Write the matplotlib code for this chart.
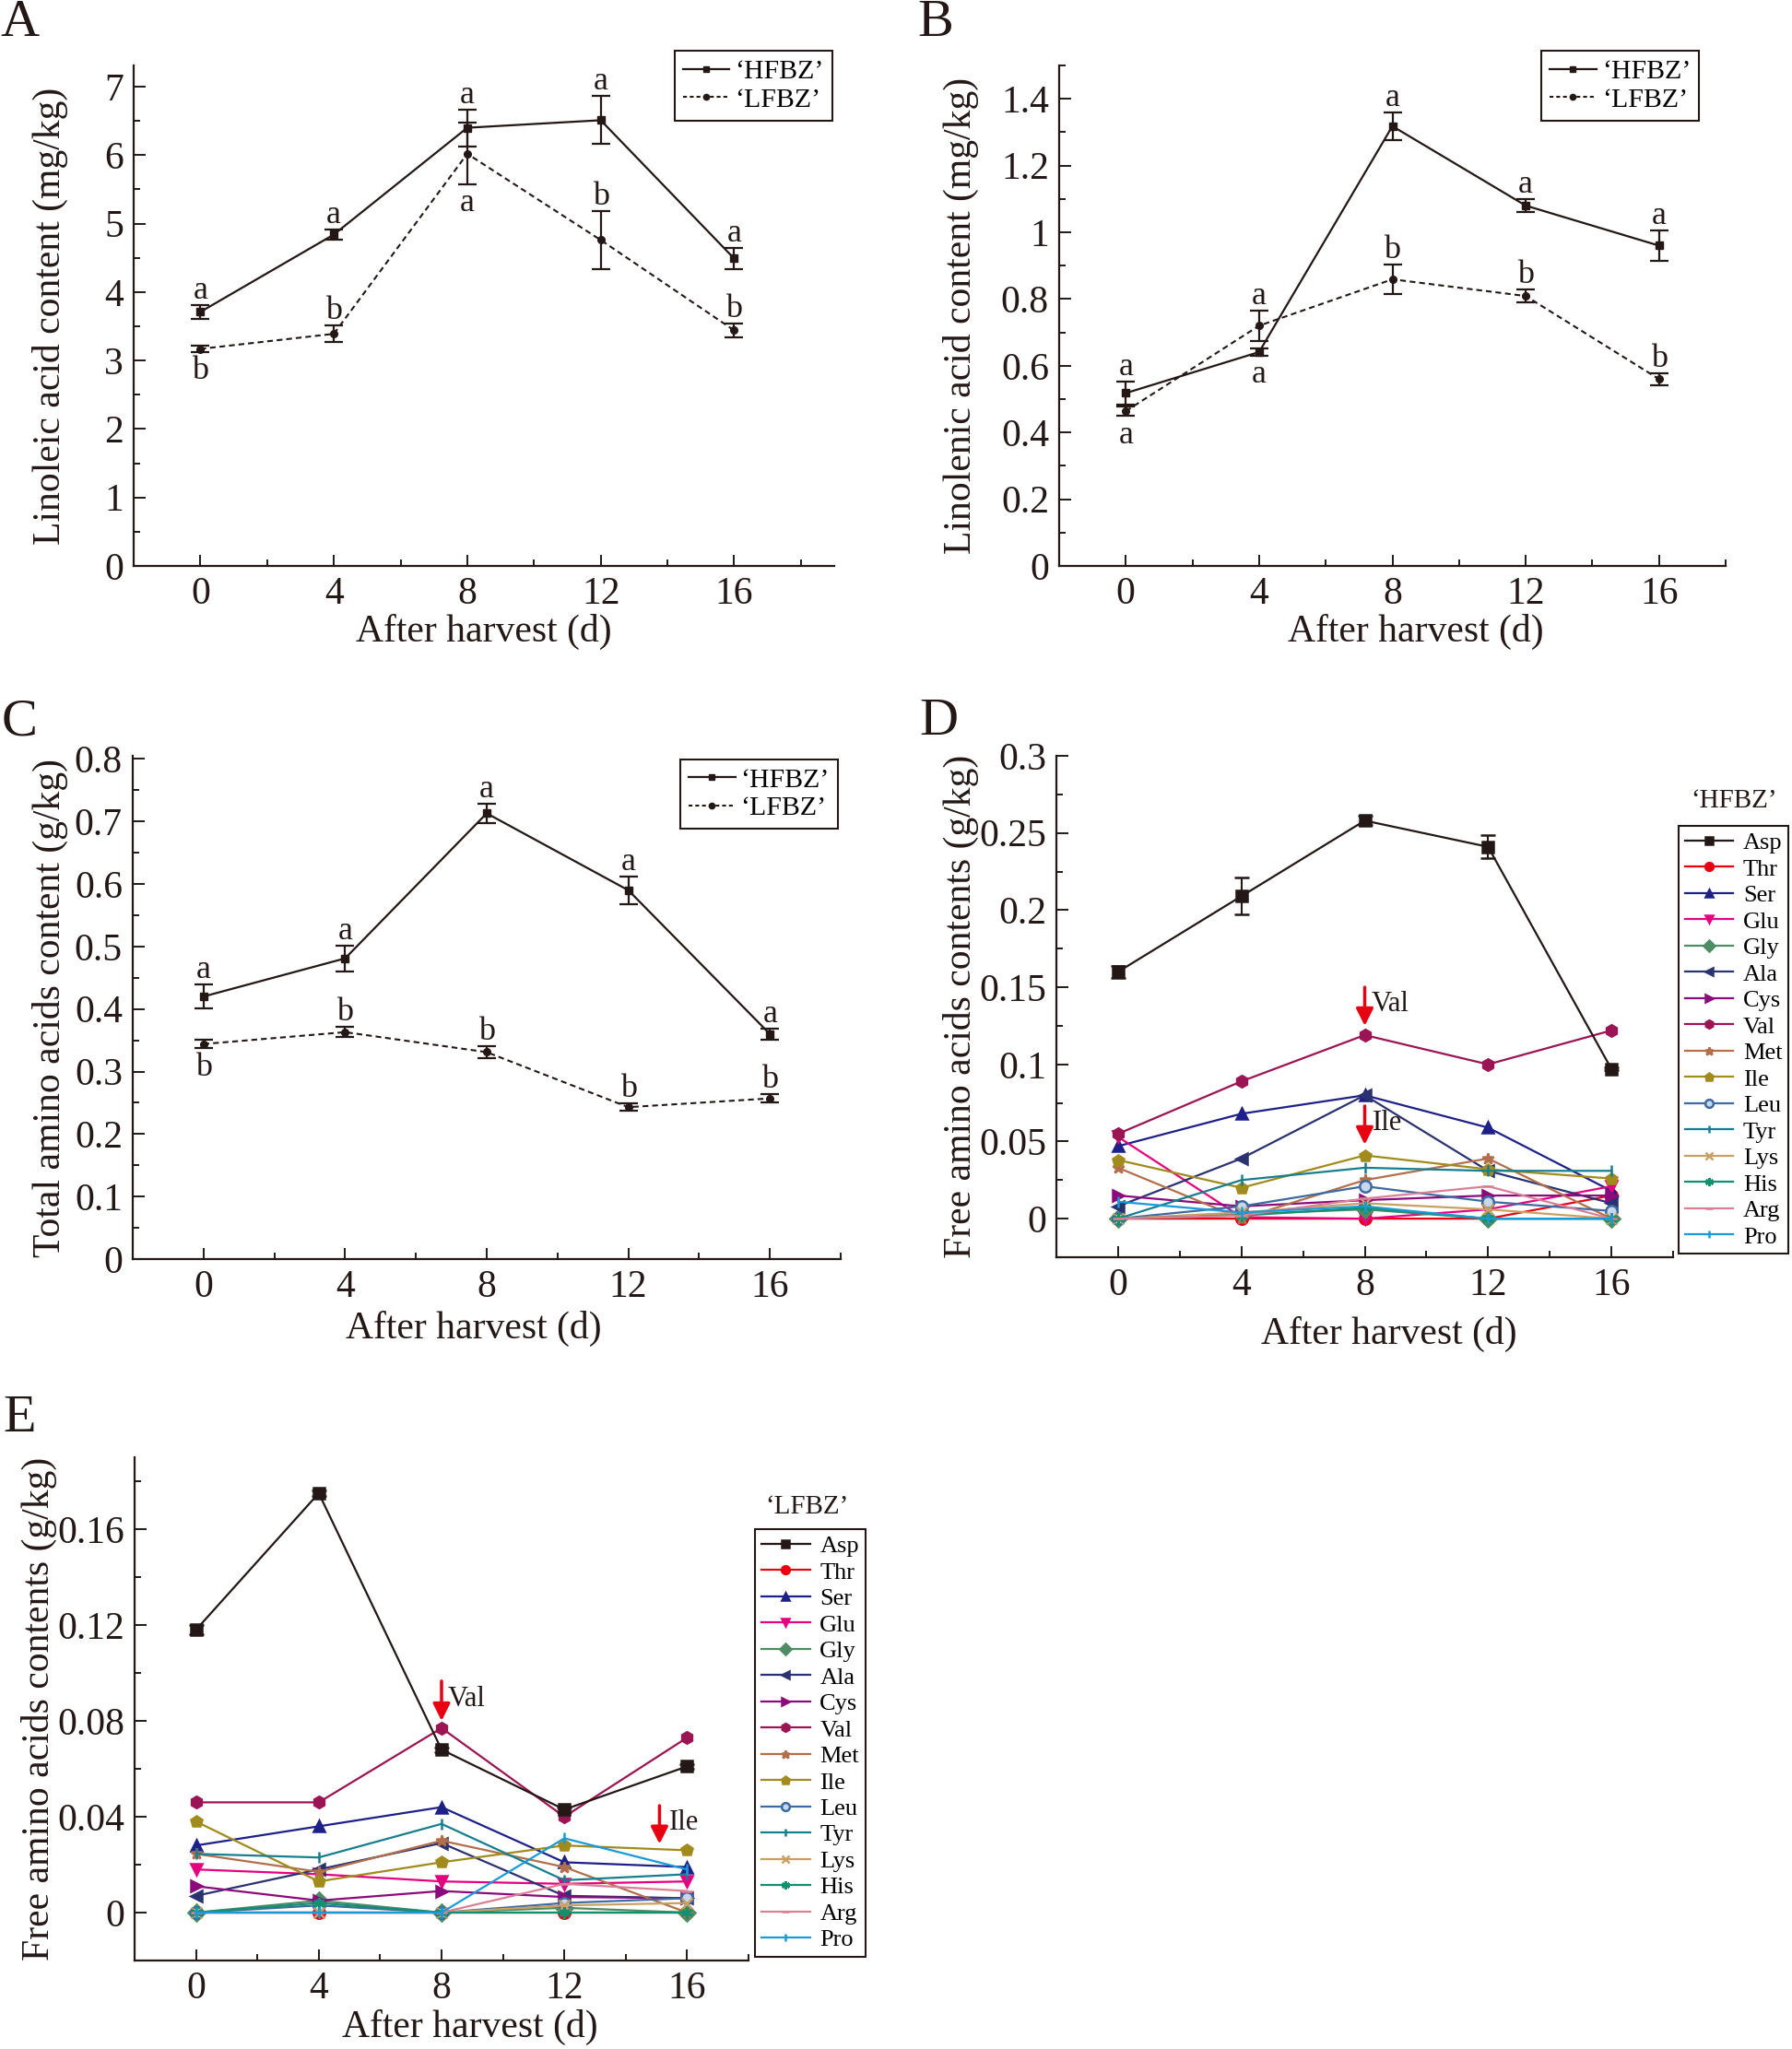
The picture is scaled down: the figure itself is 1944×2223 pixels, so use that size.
import matplotlib
matplotlib.use('Agg')
import matplotlib.pyplot as plt
from matplotlib.ticker import MultipleLocator, FuncFormatter
from matplotlib.lines import Line2D

plt.rcParams['font.family'] = ['Liberation Serif', 'DejaVu Serif']

ink = '#231815'
days = [0, 4, 8, 12, 16]

# A: linoleic acid (mg/kg)
linoleic_hfbz = [3.71, 4.84, 6.40, 6.51, 4.49]
linoleic_hfbz_err = [0.10, 0.08, 0.27, 0.35, 0.15]
linoleic_lfbz = [3.17, 3.39, 6.02, 4.76, 3.44]
linoleic_lfbz_err = [0.05, 0.12, 0.45, 0.42, 0.10]
linoleic_hfbz_sig = ['a', 'a', 'a', 'a', 'a']
linoleic_lfbz_sig = ['b', 'b', 'a', 'b', 'b']

# B: linolenic acid (mg/kg)
linolenic_hfbz = [0.518, 0.641, 1.318, 1.080, 0.960]
linolenic_hfbz_err = [0.035, 0.011, 0.041, 0.019, 0.045]
linolenic_lfbz = [0.464, 0.720, 0.859, 0.809, 0.560]
linolenic_lfbz_err = [0.015, 0.046, 0.044, 0.020, 0.018]
linolenic_hfbz_sig = ['a', 'a', 'a', 'a', 'a']
linolenic_lfbz_sig = ['a', 'a', 'b', 'b', 'b']

# C: total amino acids (g/kg)
total_aa_hfbz = [0.420, 0.481, 0.713, 0.590, 0.360]
total_aa_hfbz_err = [0.019, 0.021, 0.016, 0.022, 0.009]
total_aa_lfbz = [0.344, 0.363, 0.331, 0.243, 0.257]
total_aa_lfbz_err = [0.007, 0.008, 0.009, 0.006, 0.007]
total_aa_hfbz_sig = ['a', 'a', 'a', 'a', 'a']
total_aa_lfbz_sig = ['b', 'b', 'b', 'b', 'b']

# D / E: free amino acids (g/kg)
aa_names = ['Asp', 'Thr', 'Ser', 'Glu', 'Gly', 'Ala', 'Cys', 'Val',
            'Met', 'Ile', 'Leu', 'Tyr', 'Lys', 'His', 'Arg', 'Pro']
hfbz_free_aa = [
    [0.160, 0.209, 0.258, 0.241, 0.097],
    [0.0, 0.0, 0.0, 0.0, 0.015],
    [0.047, 0.068, 0.080, 0.059, 0.018],
    [0.053, 0.001, 0.0, 0.006, 0.021],
    [0.0, 0.003, 0.006, 0.0, 0.0],
    [0.008, 0.039, 0.080, 0.031, 0.010],
    [0.015, 0.008, 0.012, 0.015, 0.015],
    [0.055, 0.089, 0.119, 0.100, 0.122],
    [0.033, 0.0, 0.025, 0.039, 0.0],
    [0.038, 0.020, 0.041, 0.032, 0.026],
    [0.0, 0.008, 0.021, 0.011, 0.005],
    [0.0, 0.025, 0.033, 0.031, 0.031],
    [0.0, 0.004, 0.010, 0.006, 0.0],
    [0.0, 0.002, 0.007, 0.0, 0.0],
    [0.0, 0.002, 0.013, 0.021, 0.0],
    [0.011, 0.004, 0.008, 0.0, 0.0],
]
hfbz_asp_err = [0.004, 0.012, 0.003, 0.0075, 0.001]
lfbz_free_aa = [
    [0.118, 0.175, 0.068, 0.043, 0.061],
    [0.0, 0.0, 0.0, 0.0, 0.0],
    [0.028, 0.036, 0.044, 0.021, 0.019],
    [0.018, 0.016, 0.013, 0.012, 0.013],
    [0.0, 0.005, 0.0, 0.002, 0.0],
    [0.007, 0.018, 0.029, 0.007, 0.006],
    [0.011, 0.005, 0.009, 0.0065, 0.006],
    [0.046, 0.046, 0.077, 0.040, 0.073],
    [0.0245, 0.017, 0.030, 0.019, 0.0],
    [0.038, 0.013, 0.021, 0.028, 0.026],
    [0.0, 0.003, 0.0, 0.004, 0.006],
    [0.0245, 0.023, 0.037, 0.0135, 0.016],
    [0.0, 0.0, 0.0, 0.003, 0.004],
    [0.0, 0.004, 0.0, 0.0, 0.0],
    [0.0, 0.0, 0.0, 0.012, 0.009],
    [0.0, 0.0, 0.0, 0.031, 0.018],
]
lfbz_asp_err = [0.002, 0.001, 0.001, 0.001, 0.001]

aa_colors = ['#231815', '#e60012', '#1d2088', '#e4007f', '#4d8c65', '#2a3270',
             '#8b0a7c', '#9b1453', '#b26f4c', '#a08b1c', '#3d6aa0', '#177e8f',
             '#c9a063', '#0f9170', '#d98095', '#1a9ad6']
aa_markers = ['s', 'o', '^', 'v', 'D', '<', '>', 'h',
              '*', 'p', 'o', '|', 'x', (6, 2, 0), '_', '|']

W, H = 1944, 2223
fig = plt.figure(figsize=(W / 100, H / 100), dpi=100)


def add_axes(left, right, top, bottom):
    return fig.add_axes([left / W, 1 - bottom / H, (right - left) / W, (bottom - top) / H])


def fmt(v, p):
    return '0' if abs(v) < 1e-9 else f'{v:g}'


def style(ax, xlim, ylim, ymaj, ymin, ylabel, ylx, xlx, xly):
    ax.set_xlim(xlim)
    ax.set_ylim(ylim)
    for s in ['top', 'right']:
        ax.spines[s].set_visible(False)
    for s in ['left', 'bottom']:
        ax.spines[s].set_linewidth(1.6)
        ax.spines[s].set_color(ink)
    ax.set_xticks(days)
    ax.xaxis.set_minor_locator(MultipleLocator(2))
    ax.yaxis.set_major_locator(MultipleLocator(ymaj))
    ax.yaxis.set_minor_locator(MultipleLocator(ymin))
    ax.yaxis.set_major_formatter(FuncFormatter(fmt))
    ax.tick_params(which='both', direction='in', width=1.4, colors=ink,
                   labelsize=30, pad=8)
    ax.tick_params(which='major', length=9)
    ax.tick_params(which='minor', length=5)
    ax.set_ylabel(ylabel, fontsize=30, color=ink, va='center')
    ax.yaxis.set_label_coords(ylx, 0.5)
    ax.set_xlabel('After harvest (d)', fontsize=30, color=ink, va='center')
    ax.xaxis.set_label_coords(xlx, xly)


def draw_pair(ax, h, he, l, le, hsig, lsig, hpos, lpos):
    ax.errorbar(days, h, yerr=he, color=ink, lw=1.6, marker='s', ms=6,
                capsize=7, elinewidth=1.6, capthick=1.6)
    ax.errorbar(days, l, yerr=le, color=ink, lw=1.5, ls=(0, (3, 2)), marker='o', ms=5.5,
                capsize=7, elinewidth=1.6, capthick=1.6)
    for vals, errs, sig, pos in [(h, he, hsig, hpos), (l, le, lsig, lpos)]:
        for x, v, e, s, p in zip(days, vals, errs, sig, pos):
            if p == 'above':
                ax.annotate(s, (x, v + e), xytext=(0, 5), textcoords='offset points',
                            ha='center', va='baseline', fontsize=26, color=ink)
            else:
                ax.annotate(s, (x, v - e), xytext=(0, -3), textcoords='offset points',
                            ha='center', va='top', fontsize=26, color=ink)


def pair_legend(ax, anchor):
    handles = [Line2D([], [], color=ink, lw=1.6, marker='s', ms=5),
               Line2D([], [], color=ink, lw=1.5, ls=(0, (2, 1.5)), marker='o', ms=4.5)]
    leg = ax.legend(handles, ['\u2018HFBZ\u2019', '\u2018LFBZ\u2019'], loc='upper right',
                    bbox_to_anchor=anchor, borderaxespad=0, fontsize=21.5, handlelength=1.7,
                    handletextpad=0.2, borderpad=0.3, labelspacing=0.12, fancybox=False,
                    framealpha=1, edgecolor=ink)
    leg.get_frame().set_linewidth(1.5)


def aa_panel(ax, data, asp_err, title, anchor, title_xy):
    handles = []
    for i, (name, vals) in enumerate(zip(aa_names, data)):
        mfc = '#c8d8ec' if name == 'Leu' else aa_colors[i]
        kw = dict(color=aa_colors[i], lw=1.6, marker=aa_markers[i],
                  mfc=mfc, mew=1.8)
        if name == 'Asp':
            cont = ax.errorbar(days, vals, yerr=asp_err, capsize=6, elinewidth=1.5,
                               capthick=1.5, ms=8, **kw)
            handles.append(cont.lines[0])
        else:
            line, = ax.plot(days, vals, ms=9, **kw)
            handles.append(line)
    leg = ax.legend(handles, aa_names, loc='upper right', bbox_to_anchor=anchor,
                    borderaxespad=0, fontsize=19, handlelength=2.0, handletextpad=0.4,
                    borderpad=0.25, labelspacing=0.19, fancybox=False, framealpha=1,
                    edgecolor=ink, markerscale=0.7)
    leg.get_frame().set_linewidth(1.5)
    ax.text(title_xy[0], title_xy[1], title, transform=ax.transAxes, ha='center',
            va='center', fontsize=21, color=ink)


def red_arrow(ax, x, y0, y1, label, tx):
    ax.annotate('', xy=(x, y1), xytext=(x, y0),
                arrowprops=dict(arrowstyle='-|>', color='#e60012', lw=2.5,
                                mutation_scale=28, shrinkA=0, shrinkB=0))
    ax.text(tx, (y0 + y1) / 2 + (y0 - y1) * 0.05, label, fontsize=22, color=ink,
            ha='left', va='center')


# A
axA = add_axes(145, 905, 71, 614)
draw_pair(axA, linoleic_hfbz, linoleic_hfbz_err, linoleic_lfbz, linoleic_lfbz_err,
          linoleic_hfbz_sig, linoleic_lfbz_sig, ['above'] * 5,
          ['below', 'above', 'below', 'above', 'above'])
style(axA, (-2, 19), (0, 7.31), 1, 0.5, 'Linoleic acid content (mg/kg)', -0.119, 0.5, -0.132)
pair_legend(axA, (0.997, 1.029))

# B
axB = add_axes(1149, 1872, 71, 614)
draw_pair(axB, linolenic_hfbz, linolenic_hfbz_err, linolenic_lfbz, linolenic_lfbz_err,
          linolenic_hfbz_sig, linolenic_lfbz_sig,
          ['above', 'below', 'above', 'above', 'above'],
          ['below', 'above', 'above', 'above', 'above'])
style(axB, (-2, 18), (0, 1.5), 0.2, 0.1, 'Linolenic acid content (mg/kg)', -0.148, 0.535, -0.132)
pair_legend(axB, (0.96, 1.029))

# C
axC = add_axes(144, 912, 820, 1366)
draw_pair(axC, total_aa_hfbz, total_aa_hfbz_err, total_aa_lfbz, total_aa_lfbz_err,
          total_aa_hfbz_sig, total_aa_lfbz_sig, ['above'] * 5,
          ['below', 'above', 'above', 'above', 'above'])
style(axC, (-2, 18), (0, 0.805), 0.1, 0.05, 'Total amino acids content (g/kg)', -0.116, 0.482, -0.139)
pair_legend(axC, (0.996, 0.993))

# D
axD = add_axes(1146, 1815, 820, 1364)
aa_panel(axD, hfbz_free_aa, hfbz_asp_err, '\u2018HFBZ\u2019', (1.187, 0.86), (1.098, 0.91))
style(axD, (-2, 18), (-0.025, 0.3), 0.05, 0.025, 'Free amino acids contents (g/kg)', -0.155, 0.54, -0.154)
red_arrow(axD, 8, 0.150, 0.125, 'Val', 8.2)
red_arrow(axD, 8, 0.073, 0.048, 'Ile', 8.25)

# E
axE = add_axes(146, 812, 1581, 2127)
aa_panel(axE, lfbz_free_aa, lfbz_asp_err, '\u2018LFBZ\u2019', (1.19, 0.857), (1.095, 0.902))
style(axE, (-2, 18), (-0.02, 0.19), 0.04, 0.02, 'Free amino acids contents (g/kg)', -0.156, 0.547, -0.132)
red_arrow(axE, 8, 0.0966, 0.080, 'Val', 8.2)
red_arrow(axE, 15.1, 0.0446, 0.0286, 'Ile', 15.4)

for letter, (x, y) in zip('ABCDE', [(21, 25), (1015, 25), (21, 783), (1018, 783), (21, 1539)]):
    fig.text(x / W, 1 - y / H, letter, ha='center', va='center', fontsize=42, color=ink)

fig.savefig('out.png', dpi=100, facecolor='white')
